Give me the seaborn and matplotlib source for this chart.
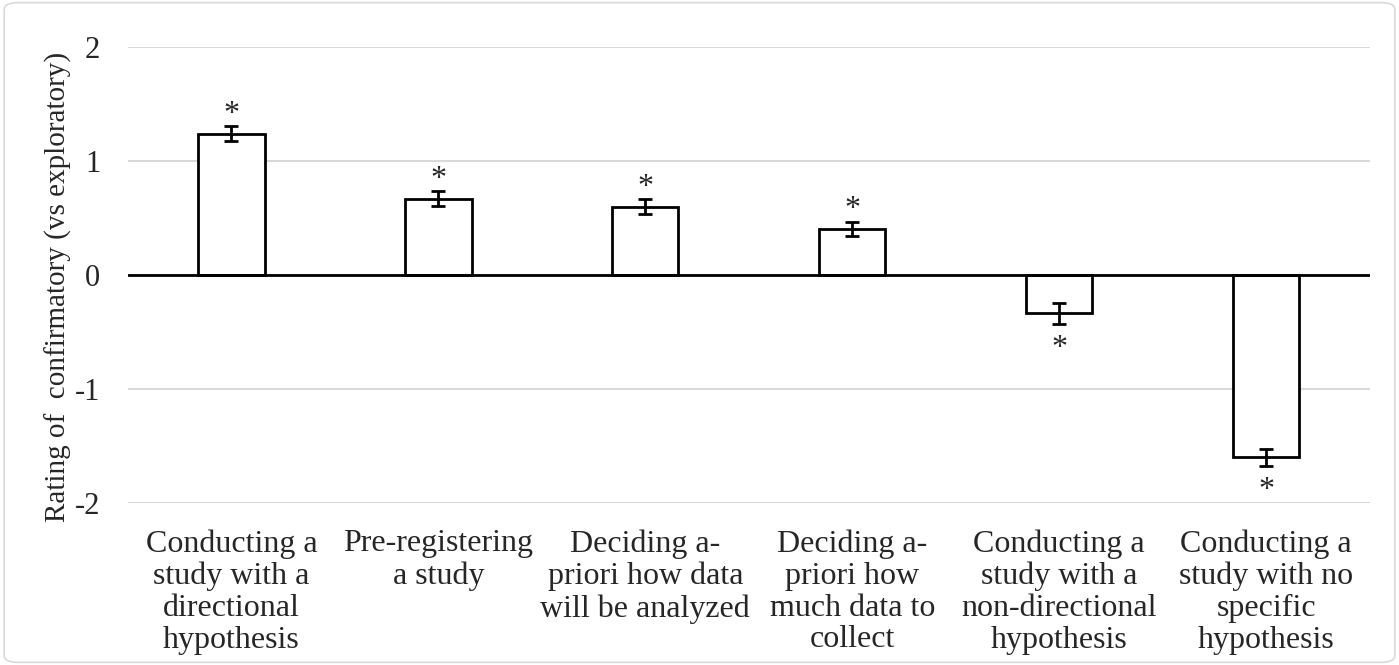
import matplotlib
matplotlib.use("Agg")
import matplotlib.pyplot as plt
import seaborn as sns
import pandas as pd
from matplotlib.patches import FancyBboxPatch

categories = [
    "Conducting a\nstudy with a\ndirectional\nhypothesis",
    "Pre-registering\na study",
    "Deciding a-\npriori how data\nwill be analyzed",
    "Deciding a-\npriori how\nmuch data to\ncollect",
    "Conducting a\nstudy with a\nnon-directional\nhypothesis",
    "Conducting a\nstudy with no\nspecific\nhypothesis",
]
values = [1.24, 0.67, 0.60, 0.405, -0.335, -1.60]
errors = [0.066, 0.068, 0.066, 0.064, 0.092, 0.075]
significant = ["*", "*", "*", "*", "*", "*"]
y_ticks = [-2, -1, 0, 1, 2]
y_label = "Rating of  confirmatory (vs exploratory)"

sns.set_theme(style="white")
plt.rcParams["font.family"] = ["Liberation Serif", "DejaVu Serif"]

df = pd.DataFrame({"category": categories, "value": values})

fig = plt.figure(figsize=(13.99, 6.65), dpi=100)
ax = fig.add_axes([0.0915, 0.2436, 0.8875, 0.6858])

sns.barplot(data=df, x="category", y="value", ax=ax, color="white",
            edgecolor="black", linewidth=2, width=0.32, errorbar=None,
            saturation=1, zorder=3)

xs = list(range(len(categories)))
ax.errorbar(xs, values, yerr=errors, fmt="none", ecolor="black",
            elinewidth=2, capsize=5, capthick=2, zorder=4)

for x, v, e, s in zip(xs, values, errors, significant):
    if v >= 0:
        ax.annotate(s, (x, v + e), xytext=(0, 3), textcoords="offset points",
                    ha="center", va="baseline", fontsize=23)
    else:
        ax.annotate(s, (x, v - e), xytext=(0, -23), textcoords="offset points",
                    ha="center", va="baseline", fontsize=23)

ax.set_ylim(-2, 2)
ax.set_xlim(-0.5, len(categories) - 0.5)
ax.set_yticks(y_ticks)
ax.set_yticklabels([str(t) for t in y_ticks], fontsize=22)
ax.yaxis.grid(True, color="#d9d9d9", linewidth=1.5, zorder=0)
ax.set_axisbelow(True)
ax.axhline(0, color="black", linewidth=2, zorder=5)
for sp in ax.spines.values():
    sp.set_visible(False)
ax.tick_params(axis="y", length=0, pad=20)
ax.tick_params(axis="x", length=0, pad=19)
ax.set_xticks(xs)
ax.set_xticklabels(categories, fontsize=23, linespacing=1.13)
ax.set_xlabel("")
ax.set_ylabel(y_label, fontsize=21)
ax.yaxis.set_label_coords(-0.045, 0.474)

border = FancyBboxPatch((0.003, 0.004), 0.994, 0.992, boxstyle="round,pad=0,rounding_size=0.01",
                        transform=fig.transFigure, fill=False, edgecolor="#d9d9d9",
                        linewidth=1.2)
fig.patches.append(border)

fig.savefig("out.png", dpi=100)
